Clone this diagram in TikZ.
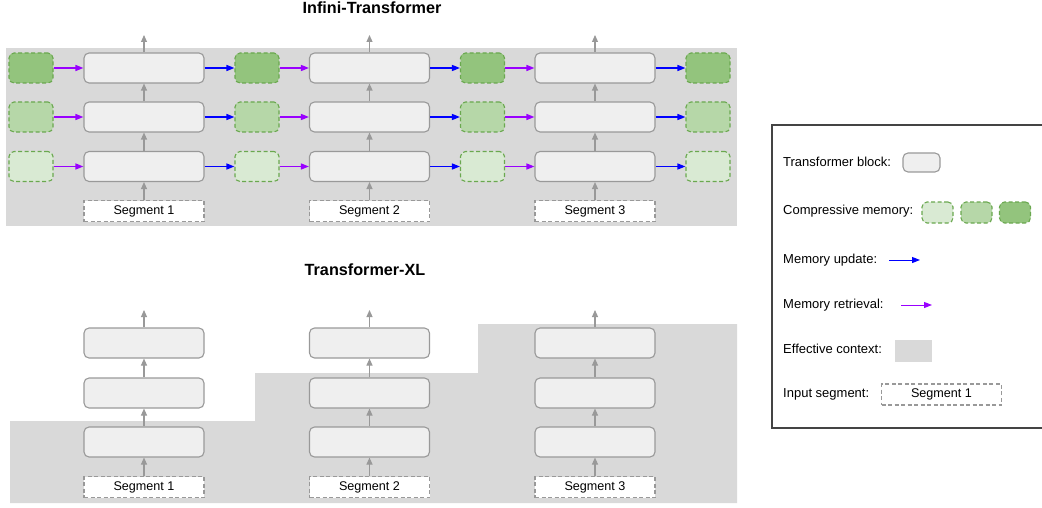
\documentclass[tikz,border=0pt]{standalone}
\usepackage{fontspec}
\setmainfont{Liberation Sans}
\usetikzlibrary{arrows.meta}
\definecolor{ctxgray}{HTML}{D9D9D9}
\definecolor{blockfill}{HTML}{EFEFEF}
\definecolor{blockline}{HTML}{999999}
\definecolor{memA}{HTML}{D9EAD3}
\definecolor{memB}{HTML}{B6D7A8}
\definecolor{memC}{HTML}{93C47D}
\definecolor{memline}{HTML}{6AA84F}
\definecolor{updblue}{HTML}{0000FF}
\definecolor{retpurple}{HTML}{9900FF}
\definecolor{legline}{HTML}{444444}
\tikzset{
  tblock/.style={draw=blockline, fill=blockfill, line width=1.1pt, rounded corners=5pt, minimum width=120pt, minimum height=30pt, inner sep=0pt},
  memory/.style={draw=memline, line width=1.1pt, dash pattern=on 4pt off 2.5pt, rounded corners=5pt, minimum width=44pt, minimum height=30pt, inner sep=0pt},
  segbox/.style={draw=blockline, fill=white, line width=1.1pt, dash pattern=on 4pt off 2.5pt, minimum width=120pt, minimum height=21pt, inner sep=0pt, font=\fontsize{12.6}{14}\selectfont},
  lbl/.style={anchor=west, inner sep=0pt, font=\fontsize{13}{15}\selectfont},
  ttl/.style={inner sep=0pt, font=\fontsize{16.2}{18}\selectfont\bfseries},
  flow/.style={draw=blockline, line width=1.1pt, -{Triangle[length=7pt,width=6pt]}},
  upd/.style={draw=updblue, line width=1.3pt, -{Triangle[length=8pt,width=6pt]}},
  ret/.style={draw=retpurple, line width=1.3pt, -{Triangle[length=8pt,width=6pt]}},
}
\begin{document}
\begin{tikzpicture}[x=1pt,y=-1pt]
\useasboundingbox (0,0) rectangle (1042,508);
% ---------- backgrounds
\fill[ctxgray] (6,48) rectangle (737,226);
\fill[ctxgray] (10,421) -- (255,421) -- (255,373) -- (478,373) -- (478,324) -- (737,324) -- (737,503) -- (10,503) -- cycle;

% ---------- Infini-Transformer
\node[ttl] (t1) at (372,8) {Infini-Transformer};
\foreach \c/\x in {1/144,2/369.5,3/595}{
  \node[tblock] (b\c1) at (\x,166.5) {};
  \node[tblock] (b\c2) at (\x,117) {};
  \node[tblock] (b\c3) at (\x,68) {};
  \node[segbox] (s\c) at (\x,211) {Segment \c};
  \coordinate (o\c) at (\x,35);
  \draw[flow] (s\c) -- (b\c1);
  \draw[flow] (b\c1) -- (b\c2);
  \draw[flow] (b\c2) -- (b\c3);
  \draw[flow] (b\c3) -- (o\c);
}
\foreach \m/\x in {0/31,1/257,2/482.5,3/708}{
  \node[memory, fill=memA] (m\m1) at (\x,166.5) {};
  \node[memory, fill=memB] (m\m2) at (\x,117) {};
  \node[memory, fill=memC] (m\m3) at (\x,68) {};
}
\foreach \r in {1,2,3}{
  \draw[ret] (m0\r) -- (b1\r);
  \draw[upd] (b1\r) -- (m1\r);
  \draw[ret] (m1\r) -- (b2\r);
  \draw[upd] (b2\r) -- (m2\r);
  \draw[ret] (m2\r) -- (b3\r);
  \draw[upd] (b3\r) -- (m3\r);
}

% ---------- Transformer-XL
\node[ttl] (t2) at (365,270) {Transformer-XL};
\foreach \c/\x in {1/144,2/369.5,3/595}{
  \node[tblock] (x\c1) at (\x,442) {};
  \node[tblock] (x\c2) at (\x,393) {};
  \node[tblock] (x\c3) at (\x,343) {};
  \node[segbox] (xs\c) at (\x,487) {Segment \c};
  \coordinate (xo\c) at (\x,310);
  \draw[flow] (xs\c) -- (x\c1);
  \draw[flow] (x\c1) -- (x\c2);
  \draw[flow] (x\c2) -- (x\c3);
  \draw[flow] (x\c3) -- (xo\c);
}

% ---------- Legend
\draw[legline, line width=1.2pt] (1046,125) -- (772,125) -- (772,428) -- (1046,428);
\node[lbl] (l1) at (783,162) {Transformer block:};
\node[tblock, minimum width=37pt, minimum height=19pt] (lb) at (921.5,162.5) {};
\node[lbl] (l2) at (783,211) {Compressive memory:};
\node[memory, fill=memA, minimum width=31pt, minimum height=21pt] (lm1) at (937.5,212.5) {};
\node[memory, fill=memB, minimum width=31pt, minimum height=21pt] (lm2) at (976.5,212.5) {};
\node[memory, fill=memC, minimum width=31pt, minimum height=21pt] (lm3) at (1015,212.5) {};
\node[lbl] (l3) at (783,260) {Memory update:};
\coordinate (ua) at (889,260);
\coordinate (ub) at (920,260);
\draw[upd, line width=1pt] (ua) -- (ub);
\node[lbl] (l4) at (783,305) {Memory retrieval:};
\coordinate (ra) at (901,305);
\coordinate (rb) at (932,305);
\draw[ret, line width=1pt] (ra) -- (rb);
\node[lbl] (l5) at (783,349) {Effective context:};
\node[fill=ctxgray, minimum width=37pt, minimum height=22pt, inner sep=0pt] (lc) at (913.5,351) {};
\node[lbl] (l6) at (783,394) {Input segment:};
\node[segbox] (ls) at (941.5,394.5) {Segment 1};
\end{tikzpicture}
\end{document}
